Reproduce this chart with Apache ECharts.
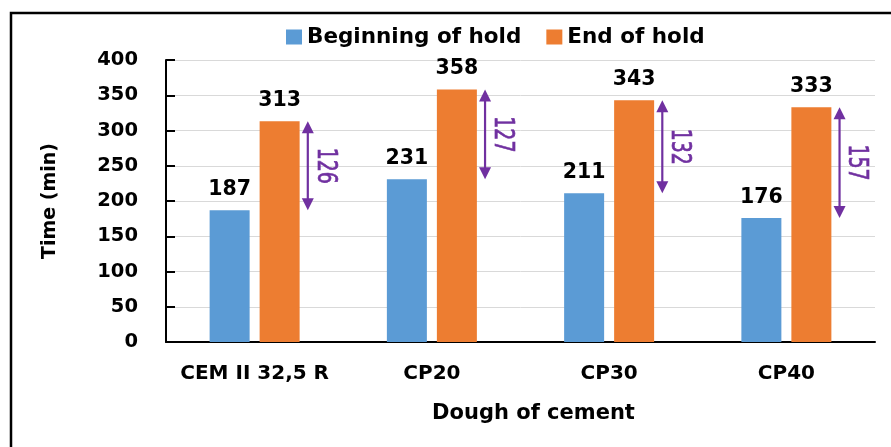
<!DOCTYPE html>
<html>
<head>
<meta charset="utf-8">
<script src="https://cdn.jsdelivr.net/npm/echarts@6/dist/echarts.min.js"></script>
<style>
html,body{margin:0;padding:0;background:#fff;}
#chart{width:891px;height:447px;}
</style>
</head>
<body>
<div id="chart"></div>
<script>
const categories = ['CEM II 32,5 R', 'CP20', 'CP30', 'CP40'];
const beginHold = [187, 231, 211, 176];
const endHold = [313, 358, 343, 333];
const holdDiff = [126, 127, 132, 157];
const yTicks = [0, 400, 50];

const FONT = '"DejaVu Sans", Verdana, sans-serif';
const PURPLE = '#7030A0';

const chart = echarts.init(document.getElementById('chart'), null, {renderer: 'canvas'});

const arrowData = categories.map((c, i) => [i, beginHold[i], endHold[i], holdDiff[i]]);

const option = {
  animation: false,
  backgroundColor: '#fff',
  graphic: [{
    type: 'rect',
    shape: {x: 11, y: 13, width: 900, height: 460},
    style: {fill: 'none', stroke: '#000', lineWidth: 2.5},
    silent: true,
    z: 100
  }],
  legend: {
    left: 281,
    top: 21,
    itemWidth: 16,
    itemHeight: 15,
    itemGap: 25,
    icon: 'rect',
    textStyle: {fontFamily: FONT, fontWeight: 'bold', fontSize: 21.5, color: '#000'},
    data: ['Beginning of hold', 'End of hold']
  },
  grid: {left: 166, right: 16, top: 60, bottom: 105, containLabel: false},
  xAxis: {
    type: 'category',
    data: categories,
    axisLine: {lineStyle: {color: '#000', width: 2}},
    axisTick: {show: false},
    axisLabel: {interval: 0, margin: 22, fontFamily: FONT, fontWeight: 'bold', fontSize: 20, color: '#000'},
    name: 'Dough of cement',
    nameLocation: 'middle',
    nameGap: 61,
    nameTextStyle: {fontFamily: FONT, fontWeight: 'bold', fontSize: 21, color: '#000', padding: [0, 0, 0, 26]}
  },
  yAxis: {
    type: 'value',
    min: yTicks[0],
    max: yTicks[1],
    interval: yTicks[2],
    axisLine: {show: true, lineStyle: {color: '#000', width: 2}},
    axisTick: {show: true, inside: true, length: 9, lineStyle: {color: '#000', width: 2}},
    splitLine: {show: true, lineStyle: {color: '#D9D9D9', width: 1}},
    axisLabel: {margin: 28, fontFamily: FONT, fontWeight: 'bold', fontSize: 19.5, color: '#000'},
    name: 'Time (min)',
    nameLocation: 'middle',
    nameGap: 106,
    nameRotate: 90,
    nameTextStyle: {fontFamily: FONT, fontWeight: 'bold', fontSize: 19, color: '#000'}
  },
  series: [
    {
      name: 'Beginning of hold',
      type: 'bar',
      data: beginHold,
      barWidth: 40,
      barGap: '25%',
      itemStyle: {color: '#5B9BD5'},
      label: {show: true, position: 'top', distance: 10, fontFamily: FONT, fontWeight: 'bold', fontSize: 20.5, color: '#000'}
    },
    {
      name: 'End of hold',
      type: 'bar',
      data: endHold,
      barWidth: 40,
      barGap: '25%',
      itemStyle: {color: '#ED7D31'},
      label: {show: true, position: 'top', distance: 10, fontFamily: FONT, fontWeight: 'bold', fontSize: 20.5, color: '#000'}
    },
    {
      name: 'diff',
      type: 'custom',
      data: arrowData,
      encode: {x: 0, y: [1, 2]},
      z: 10,
      renderItem: function (params, api) {
        const idx = api.value(0);
        const top = api.coord([idx, api.value(2)]);
        const bot = api.coord([idx, api.value(1)]);
        const band = api.size([1, 0])[0];
        const x = top[0] + band * 0.30;
        const xl = top[0] + band * 0.395;
        const ty = top[1], by = bot[1];
        const hl = 12, hw = 6;
        return {
          type: 'group',
          children: [
            {type: 'line', shape: {x1: x, y1: ty + hl - 1, x2: x, y2: by - hl + 1}, style: {stroke: PURPLE, lineWidth: 2.2}},
            {type: 'polygon', shape: {points: [[x, ty], [x - hw, ty + hl], [x + hw, ty + hl]]}, style: {fill: PURPLE}},
            {type: 'polygon', shape: {points: [[x, by], [x - hw, by - hl], [x + hw, by - hl]]}, style: {fill: PURPLE}},
            {type: 'text', x: xl, y: (ty + by) / 2, rotation: -Math.PI / 2, scaleX: 0.78, scaleY: 1,
              style: {text: String(api.value(3)), fill: PURPLE, stroke: PURPLE, lineWidth: 0.7, font: '27px "DejaVu Sans Condensed", "DejaVu Sans", sans-serif', align: 'center', verticalAlign: 'middle'}}
          ]
        };
      }
    }
  ]
};
chart.setOption(option);
</script>
</body>
</html>
